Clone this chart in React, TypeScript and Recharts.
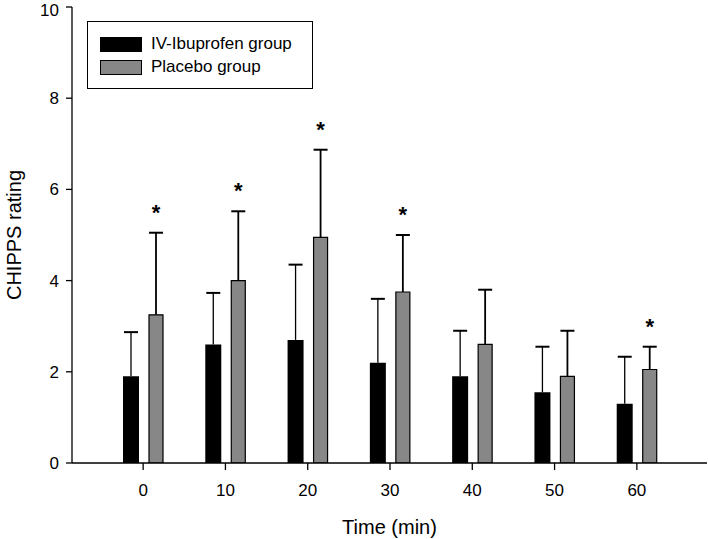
import { Bar, BarChart, Label, LabelList, XAxis, YAxis } from "recharts";

const times = ["0", "10", "20", "30", "40", "50", "60"];
const ivMean = [1.9, 2.6, 2.7, 2.2, 1.9, 1.55, 1.3];
const ivSd = [0.97, 1.13, 1.65, 1.4, 1.0, 1.0, 1.03];
const placeboMean = [3.25, 4.0, 4.95, 3.75, 2.6, 1.9, 2.05];
const placeboSd = [1.8, 1.52, 1.92, 1.25, 1.2, 1.0, 0.5];
const significant = [true, true, true, true, false, false, true];
const yTicks = [0, 2, 4, 6, 8, 10];

const FONT = "'Liberation Sans', Arial, sans-serif";
const GREY = "#878787";

const rows = times.map((t, i) => ({
  time: t,
  iv: ivMean[i],
  placebo: placeboMean[i],
}));

// upper-only error bar (and optional star), scale taken from the bar's own height/value
function makeUpperError(sd: number[], lineWidth: number, withStar: boolean) {
  return function UpperError(props: any) {
    const { x, y, width, height, value, index } = props;
    const cx = x + width / 2;
    const capY = y - (sd[index] * height) / value;
    return (
      <g>
        <line x1={cx} y1={y} x2={cx} y2={capY} stroke="#000" strokeWidth={lineWidth} />
        <line x1={cx - 7} y1={capY} x2={cx + 7} y2={capY} stroke="#000" strokeWidth={2} />
        {withStar && significant[index] ? (
          <text x={cx} y={capY - 13} textAnchor="middle" fontSize={22} fontWeight="bold" fontFamily={FONT} fill="#000">
            *
          </text>
        ) : null}
      </g>
    );
  };
}

const IvError = makeUpperError(ivSd, 1.3, false);
const PlaceboError = makeUpperError(placeboSd, 1.8, true);

function YTitle(props: any) {
  const { viewBox } = props;
  const cy = viewBox.y + viewBox.height / 2;
  return (
    <text x={14} y={cy} transform={`rotate(-90 14 ${cy})`} textAnchor="middle" dominantBaseline="central" fontSize={20} fontFamily={FONT} fill="#000">
      CHIPPS rating
    </text>
  );
}

function ChartLegend() {
  const items = [
    { label: "IV-Ibuprofen group", fill: "#000", top: 15 },
    { label: "Placebo group", fill: GREY, top: 38 },
  ];
  return (
    <div
      style={{
        position: "absolute",
        left: 87,
        top: 21,
        width: 224,
        height: 66,
        border: "1px solid #000",
        background: "#fff",
        fontFamily: FONT,
      }}
    >
      {items.map((it) => (
        <div key={it.label}>
          <div
            style={{
              position: "absolute",
              left: 12,
              top: it.top,
              width: 40,
              height: 13,
              background: it.fill,
              border: "1px solid #000",
            }}
          />
          <div style={{ position: "absolute", left: 63, top: it.top - 3, fontSize: 17, lineHeight: "20px", color: "#000", whiteSpace: "nowrap" }}>
            {it.label}
          </div>
        </div>
      ))}
    </div>
  );
}

export default function App() {
  return (
    <div style={{ position: "absolute", left: 0, top: 0, width: 708, height: 539, background: "#fff" }}>
      <BarChart width={708} height={539} data={rows} margin={{ top: 7, right: 1, bottom: 0, left: 0 }} barGap={10}>
        <XAxis
          dataKey="time"
          height={76}
          padding={{ left: 30, right: 29 }}
          axisLine={{ stroke: "#000", strokeWidth: 1.3 }}
          tickLine={{ stroke: "#000", strokeWidth: 1.3 }}
          tickSize={7}
          tickMargin={14}
          tick={{ fill: "#000", fontSize: 17, fontFamily: FONT }}
        >
          <Label value="Time (min)" position="insideBottom" offset={5} fill="#000" fontSize={20} fontFamily={FONT} />
        </XAxis>
        <YAxis
          width={72}
          domain={[0, 10]}
          ticks={yTicks}
          allowDataOverflow
          axisLine={{ stroke: "#000", strokeWidth: 1.3 }}
          tickLine={{ stroke: "#000", strokeWidth: 1.3 }}
          tickSize={6}
          tickMargin={7}
          tick={{ fill: "#000", fontSize: 17, fontFamily: FONT }}
        >
          <Label content={<YTitle />} />
        </YAxis>
        <Bar dataKey="iv" fill="#000" barSize={16} isAnimationActive={false}>
          <LabelList dataKey="iv" content={<IvError />} />
        </Bar>
        <Bar dataKey="placebo" fill={GREY} stroke="#000" strokeWidth={1.2} barSize={14} isAnimationActive={false}>
          <LabelList dataKey="placebo" content={<PlaceboError />} />
        </Bar>
      </BarChart>
      <ChartLegend />
    </div>
  );
}
